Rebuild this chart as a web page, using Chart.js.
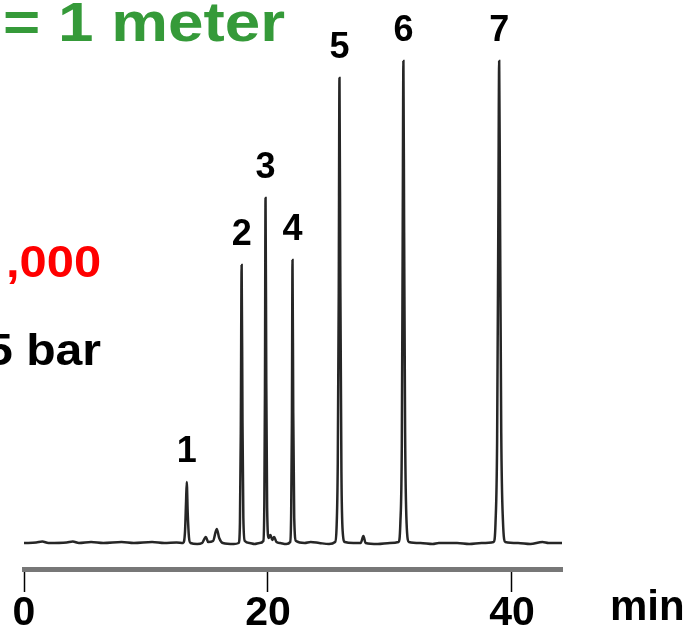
<!DOCTYPE html>
<html>
<head>
<meta charset="utf-8">
<script src="https://cdn.jsdelivr.net/npm/chart.js@4/dist/chart.umd.min.js"></script>
<style>
html,body{margin:0;padding:0;background:#fff;}
canvas{display:block;}
</style>
</head>
<body>
<canvas id="c" width="687" height="629"></canvas>
<script>
// Retention time (min) and detector signal
const retentionTimes = [
  0.0, 1.0, 1.5, 2.0, 3.5, 4.0, 4.5, 5.5, 6.5, 8.0, 9.0, 10.5, 11.5, 12.5,
  13.05, 13.2, 13.28, 13.34, 13.42, 13.52, 13.65,
  14.2, 14.6, 14.9, 15.1, 15.5, 15.8, 16.0, 16.3, 17.2, 17.6,
  17.7, 17.77, 17.84, 17.91, 17.98, 18.1,
  18.5, 18.9, 19.3, 19.62,
  19.7, 19.75, 19.80, 19.86, 19.93, 20.05,
  20.2, 20.35, 20.5, 20.7, 21.0, 21.5, 21.82,
  21.9, 21.96, 22.01, 22.07, 22.15, 22.3,
  23.0, 23.5, 24.2, 25.0, 25.5,
  25.62, 25.72, 25.8, 25.86, 25.93, 26.02, 26.12, 26.3,
  27.0, 27.6, 27.82, 28.0, 29.0, 30.0, 30.7,
  30.85, 30.97, 31.04, 31.10, 31.16, 31.24, 31.36, 31.55,
  32.5, 33.5, 34.0, 35.5, 36.5, 37.5, 38.5,
  38.65, 38.78, 38.88, 38.95, 39.02, 39.12, 39.26, 39.45,
  40.5, 41.5, 42.5, 43.0, 44.1
];
const signal = [
  0, 0.5, 1.5, 0, 0.5, 1.5, 0, 1, 0, 1, 0, 1, 0, 0.5,
  0, 12, 40, 61, 30, 6, 0,
  -1, 0, 6, 1, 2, 14, 5, 0, -1, 0,
  20, 110, 278, 120, 25, 2,
  0, -1, 0, 2,
  40, 150, 345, 160, 35, 5,
  8, 3, 6, 1, 0, -1, 1,
  30, 120, 283, 130, 25, 2,
  0, 1, 0, -1, 1,
  15, 80, 250, 465, 260, 70, 12, 1,
  0, 0, 7, 0, -1, 0, 1,
  20, 100, 300, 482, 310, 110, 20, 1,
  0, -1, 0, 0, -1, 0, 1,
  20, 100, 320, 482, 330, 110, 22, 1,
  0, -1, 1, 0, 0
];
// Peak annotations
const peakLabels = ['1', '2', '3', '4', '5', '6', '7'];
const peakTimes = [13.34, 17.84, 19.80, 22.01, 25.86, 31.10, 38.95];
const peakHeights = [61, 278, 345, 283, 465, 482, 482];
// Axis
const xTicks = [0, 20, 40];
const xUnit = 'min';
// Condition texts (partially cut off at the left edge)
const noteLength = '= 1 meter';
const notePlates = ',000';
const notePressure = '5 bar';

const FONT = "'Liberation Sans', Arial, sans-serif";

const annotate = {
  id: 'annotate',
  afterDraw(chart) {
    const c = chart.ctx;
    const xs = chart.scales.x, ys = chart.scales.y;
    c.save();
    c.textAlign = 'center';
    c.textBaseline = 'alphabetic';
    c.fillStyle = '#000';
    c.font = 'bold 36px ' + FONT;
    peakLabels.forEach((lab, i) => {
      const px = xs.getPixelForValue(peakTimes[i]);
      const py = ys.getPixelForValue(peakHeights[i]);
      c.fillText(lab, px, py - 20);
    });
    c.textAlign = 'left';
    c.font = 'bold 42px ' + FONT;
    c.fillText(xUnit, 610, 620);

    const stretched = (txt, x, y, size, sx, color) => {
      c.save();
      c.font = 'bold ' + size + 'px ' + FONT;
      c.fillStyle = color;
      c.translate(x, y);
      c.scale(sx, 1);
      c.fillText(txt, 0, 0);
      c.restore();
    };
    stretched(noteLength, 3, 41, 55, 1.16, '#359a39');
    stretched(notePlates, 6, 277, 44, 1.11, '#ff0000');
    stretched(notePressure, -14, 365, 45, 1.07, '#000');
    c.restore();
  }
};

new Chart(document.getElementById('c'), {
  type: 'line',
  data: {
    datasets: [{
      data: retentionTimes.map((t, i) => ({ x: t, y: signal[i] })),
      borderColor: '#262626',
      borderWidth: 2.5,
      pointRadius: 0,
      cubicInterpolationMode: 'monotone',
      fill: false
    }]
  },
  options: {
    responsive: false,
    animation: false,
    layout: { padding: { left: 24, right: 125, top: 0, bottom: 0 } },
    plugins: { legend: { display: false }, tooltip: { enabled: false } },
    scales: {
      x: {
        type: 'linear',
        min: 0,
        max: 44.1,
        afterBuildTicks: s => { s.ticks = xTicks.map(v => ({ value: v })); },
        afterFit: s => { s.height = 60; },
        ticks: {
          font: { family: FONT, weight: 'bold', size: 41 },
          color: '#000',
          padding: -3,
          maxRotation: 0,
          autoSkip: false
        },
        grid: {
          drawOnChartArea: false,
          tickLength: 23,
          tickColor: '#000',
          tickWidth: 1.5
        },
        border: { color: '#777', width: 5 }
      },
      y: { display: false, min: -26, max: 543 }
    }
  },
  plugins: [annotate]
});
</script>
</body>
</html>
